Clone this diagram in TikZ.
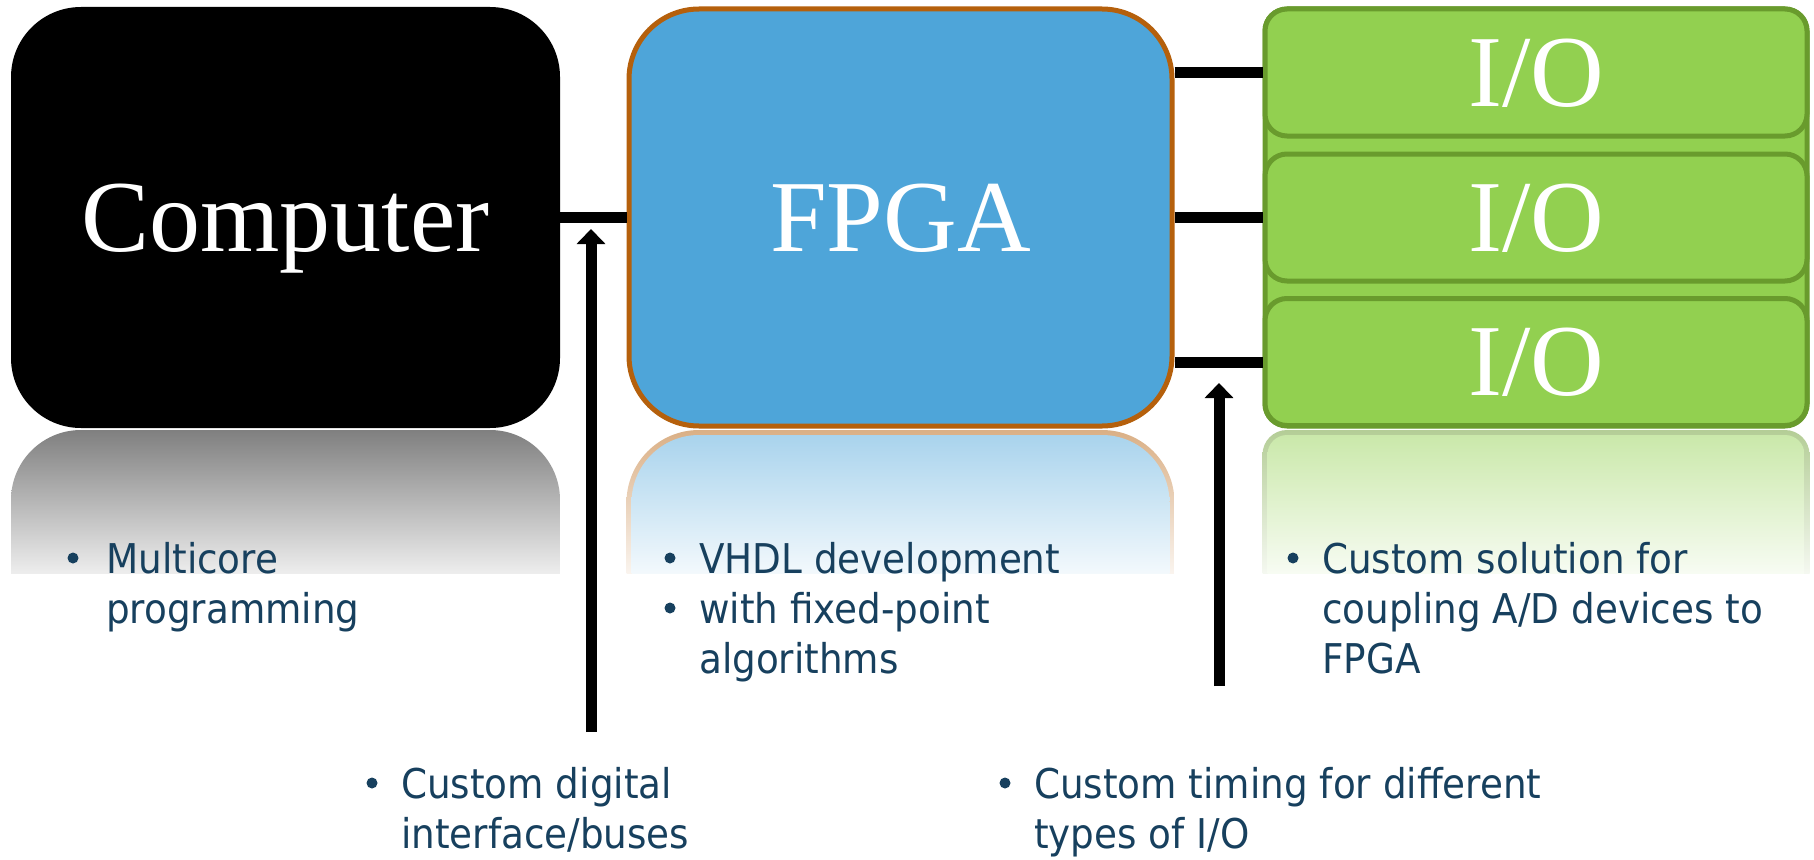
\documentclass[tikz,border=0pt]{standalone}
\usepackage{fontspec}
\setmainfont{Liberation Serif}
\newfontfamily\notefont[FakeStretch=0.91]{DejaVu Sans}
\usetikzlibrary{arrows.meta}

\definecolor{fpgablue}{HTML}{4EA5D9}
\definecolor{fpgaedge}{HTML}{B5600C}
\definecolor{iogreen}{HTML}{92D050}
\definecolor{ioedge}{HTML}{699B2D}
\definecolor{notecol}{HTML}{17405E}

\tikzset{
  block/.style={inner sep=0pt, text=white, font=\fontsize{102}{110}\selectfont,
                text height=67pt, text depth=0pt},
  compbox/.style={block, fill=black, rounded corners=70pt,
                  minimum width=549pt, minimum height=421pt},
  fpgabox/.style={block, fill=fpgablue, draw=fpgaedge, line width=5pt,
                  rounded corners=70pt, minimum width=543pt, minimum height=417pt},
  iostack/.style={fill=iogreen, draw=ioedge, line width=5pt, rounded corners=22pt,
                  minimum width=542pt, minimum height=417pt, inner sep=0pt},
  iobox/.style={block, fill=iogreen, draw=ioedge, line width=5pt, rounded corners=22pt,
                minimum width=542pt, minimum height=127pt},
  link/.style={line width=11pt, black},
  pointer/.style={line width=11pt, black, -{Triangle[width=28pt,length=15pt]}},
  % multi-line notes are anchored on the baseline of their last line
  note/.style={font=\notefont\fontsize{41}{50}\selectfont, text=notecol,
               anchor=base west, inner sep=0pt, align=left},
  dot/.style={circle, fill=notecol, minimum size=11pt, inner sep=0pt},
}

\begin{document}
\begin{tikzpicture}[x=1pt,y=-1pt]
\useasboundingbox (0,0) rectangle (1814,859);

% mirrored, fading reflections below the three blocks
\begin{scope}
  \clip[rounded corners=70pt] (11,430) rectangle (560,851);
  \shade[top color=black!50, bottom color=black!7] (11,430) rectangle (560,573);
\end{scope}
\begin{scope}
  \clip[rounded corners=72.5pt] (626.5,430) rectangle (1174.5,851);
  \shade[top color=fpgaedge!50, bottom color=fpgaedge!7] (626.5,430) rectangle (1174.5,573);
\end{scope}
\begin{scope}
  \clip[rounded corners=67.5pt] (631.5,435) rectangle (1169.5,851);
  \shade[top color=fpgablue!50, bottom color=fpgablue!7] (631.5,430) rectangle (1169.5,573);
\end{scope}
\begin{scope}
  \clip[rounded corners=24.5pt] (1262.5,430) rectangle (1809.5,851);
  \shade[top color=ioedge!50, bottom color=ioedge!7] (1262.5,430) rectangle (1809.5,573);
\end{scope}
\begin{scope}
  \clip[rounded corners=19.5pt] (1267.5,435) rectangle (1804.5,851);
  \shade[top color=iogreen!50, bottom color=iogreen!7] (1267.5,430) rectangle (1804.5,573);
\end{scope}

% main blocks
\node[compbox] (comp) at (285.5,217.5) {Computer};
\node[fpgabox] (fpga) at (900.5,217.5) {FPGA};
\node[iostack] (stack) at (1536,217.5) {};
\node[iobox] (io1) at (1536,72.5) {I/O};
\node[iobox] (io2) at (1536,217.5) {I/O};
\node[iobox] (io3) at (1536,362) {I/O};

% buses
\draw[link] (comp.east) -- (fpga.west);
\draw[link] (fpga.east |- io1.west) -- (io1.west);
\draw[link] (fpga.east |- io2.west) -- (io2.west);
\draw[link] (fpga.east |- io3.west) -- (io3.west);

% pointers to the interfaces
\coordinate (busfoot) at (591,732);
\coordinate (bustip) at (591,229);
\coordinate (iofoot) at (1219,686);
\coordinate (iotip) at (1219,383);
\draw[pointer] (busfoot) -- (bustip);
\draw[pointer] (iofoot) -- (iotip);

% notes
\node[dot] (d1) at (73,558) {};
\node[note] (n1) at (106,623) {Multicore\\programming};
\node[dot] (d2) at (670,558) {};
\node[note] (n2) at (699,573) {VHDL development};
\node[dot] (d3) at (670,608) {};
\node[note] (n3) at (699,673) {with fixed-point\\algorithms};
\node[dot] (d4) at (1293,558) {};
\node[note] (n4) at (1322,673) {Custom solution for\\coupling A/D devices to\\FPGA};
\node[dot] (d5) at (372,783) {};
\node[note] (n5) at (401,848) {Custom digital\\interface/buses};
\node[dot] (d6) at (1005,783) {};
\node[note] (n6) at (1034,848) {Custom timing for different\\types of I/O};
\end{tikzpicture}
\end{document}
